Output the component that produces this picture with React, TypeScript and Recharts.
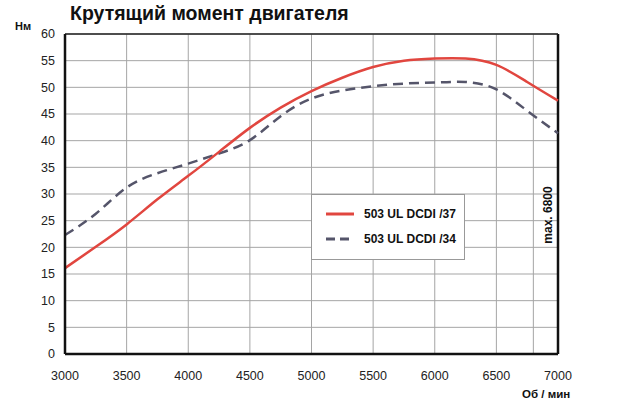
import {
  LineChart,
  Line,
  XAxis,
  YAxis,
  CartesianGrid,
  ReferenceLine,
  Legend,
} from "recharts";

// engine speed, rpm
const rpm = [3000, 3250, 3500, 3750, 4000, 4250, 4500, 4750, 5000, 5250, 5500, 5750, 6000, 6250, 6500, 6750, 7000];
// torque, Nm
const dcdi37 = [16.1, 20.1, 24.3, 29.0, 33.4, 37.9, 42.4, 46.2, 49.3, 51.8, 53.8, 55.0, 55.4, 55.4, 54.2, 51.0, 47.5];
const dcdi34 = [22.3, 26.3, 31.2, 33.9, 35.7, 37.6, 40.1, 44.6, 47.9, 49.4, 50.2, 50.7, 50.9, 51.0, 49.6, 45.6, 41.4];

const xTicks = [3000, 3500, 4000, 4500, 5000, 5500, 6000, 6500, 7000];
const yTicks = [0, 5, 10, 15, 20, 25, 30, 35, 40, 45, 50, 55, 60];

const data = rpm.map((r, i) => ({ rpm: r, d37: dcdi37[i], d34: dcdi34[i] }));

const RED = "#e1463f";
const DARK = "#55556a";
const FONT = "'Liberation Sans', Arial, sans-serif";

function LegendBox() {
  const row = (color: string, dash: string | undefined, label: string) => (
    <div style={{ display: "flex", alignItems: "center", height: 25 }}>
      <svg width={34} height={6}>
        <line x1={2} y1={3} x2={30} y2={3} stroke={color} strokeWidth={3} strokeDasharray={dash} />
      </svg>
      <span style={{ fontWeight: "bold", fontSize: 12, color: "#111", marginLeft: 6 }}>{label}</span>
    </div>
  );
  return (
    <div
      style={{
        border: "1px solid #999",
        background: "#fff",
        width: 154,
        height: 66,
        boxSizing: "border-box",
        padding: "6px 0 0 12px",
        fontFamily: FONT,
      }}
    >
      {row(RED, undefined, "503 UL DCDI /37")}
      {row(DARK, "9 5", "503 UL DCDI /34")}
    </div>
  );
}

export default function App() {
  return (
    <div style={{ position: "absolute", left: 0, top: 0, width: 620, height: 409, background: "#fff", fontFamily: FONT }}>
      <div style={{ position: "absolute", left: 70, top: 2, fontSize: 19.5, fontWeight: "bold", color: "#111" }}>
        Крутящий момент двигателя
      </div>
      <div style={{ position: "absolute", left: 15, top: 20, fontSize: 11, fontWeight: "bold", color: "#111" }}>
        Нм
      </div>
      <div style={{ position: "absolute", left: 522, top: 388, fontSize: 11.5, fontWeight: "bold", color: "#111" }}>
        Об / мин
      </div>
      <LineChart width={620} height={409} data={data} margin={{ top: 34, right: 62, left: 10, bottom: 0 }}>
        <CartesianGrid stroke="#a5a5a5" strokeWidth={1} />
        <XAxis
          dataKey="rpm"
          type="number"
          domain={[3000, 7000]}
          ticks={xTicks}
          interval={0}
          height={55}
          tickLine={false}
          tickSize={0}
          tickMargin={17}
          axisLine={{ stroke: "#111", strokeWidth: 2.5 }}
          tick={{ fontSize: 12.5, fill: "#222", fontFamily: FONT }}
        />
        <YAxis
          type="number"
          domain={[0, 60]}
          ticks={yTicks}
          interval={0}
          width={55}
          tickLine={false}
          tickSize={0}
          tickMargin={10}
          axisLine={{ stroke: "#111", strokeWidth: 2.5 }}
          tick={{ fontSize: 12.5, fill: "#222", fontFamily: FONT }}
        />
        <ReferenceLine
          x={6800}
          stroke="#a5a5a5"
          label={(props: any) => {
            const vb = props.viewBox || {};
            const cx = (vb.x || 0) + 15;
            const cy = 215;
            return (
              <text
                x={cx}
                y={cy}
                transform={`rotate(-90 ${cx} ${cy})`}
                textAnchor="middle"
                dominantBaseline="central"
                fontSize={12}
                fontWeight="bold"
                fill="#111"
                fontFamily={FONT}
              >
                max. 6800
              </text>
            );
          }}
        />
        <ReferenceLine x={7000} stroke="#111" strokeWidth={2.5} />
        <ReferenceLine y={60} stroke="#222" strokeWidth={1.5} />
        <Line
          type="natural"
          dataKey="d34"
          stroke={DARK}
          strokeWidth={2.5}
          strokeDasharray="10 6"
          dot={false}
          isAnimationActive={false}
        />
        <Line
          type="natural"
          dataKey="d37"
          stroke={RED}
          strokeWidth={2.5}
          dot={false}
          isAnimationActive={false}
        />
        <Legend
          layout="horizontal"
          verticalAlign="middle"
          align="center"
          content={() => <LegendBox />}
          wrapperStyle={{ position: "absolute", left: 311, top: 194, width: 154, height: 66 }}
        />
      </LineChart>
    </div>
  );
}
